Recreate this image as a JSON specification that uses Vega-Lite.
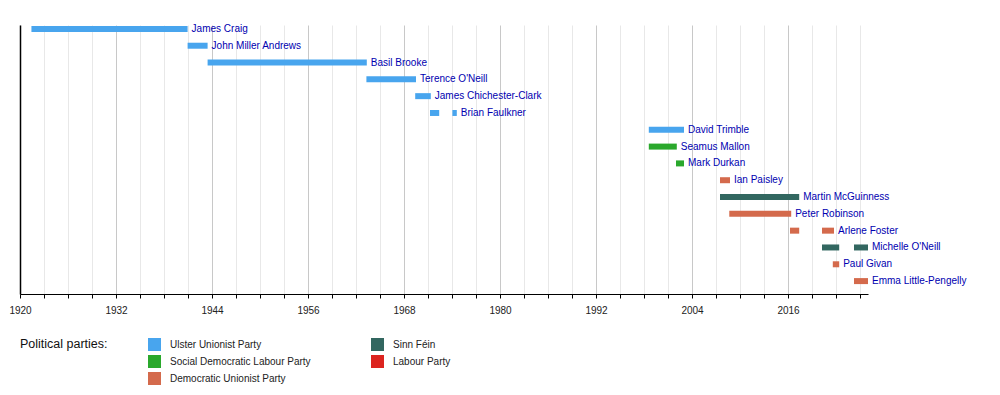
{
  "$schema": "https://vega.github.io/schema/vega-lite/v6.json",
  "width": 848,
  "height": 269,
  "autosize": {"type": "none"},
  "padding": {"left": 20, "top": 25, "right": 132, "bottom": 101},
  "background": "white",
  "config": {
    "view": {"stroke": null},
    "font": "Liberation Sans"
  },
  "data": {
    "values": [
      {"name": "James Craig", "party": "Ulster Unionist Party", "start": 1921.43, "end": 1940.95, "label": "James Craig"},
      {"name": "John Miller Andrews", "party": "Ulster Unionist Party", "start": 1940.95, "end": 1943.45, "label": "John Miller Andrews"},
      {"name": "Basil Brooke", "party": "Ulster Unionist Party", "start": 1943.45, "end": 1963.35, "label": "Basil Brooke"},
      {"name": "Terence O'Neill", "party": "Ulster Unionist Party", "start": 1963.3, "end": 1969.5, "label": "Terence O'Neill"},
      {"name": "James Chichester-Clark", "party": "Ulster Unionist Party", "start": 1969.4, "end": 1971.35, "label": "James Chichester-Clark"},
      {"name": "Brian Faulkner", "party": "Ulster Unionist Party", "start": 1971.25, "end": 1972.4, "label": ""},
      {"name": "Brian Faulkner", "party": "Ulster Unionist Party", "start": 1974.05, "end": 1974.6, "label": "Brian Faulkner"},
      {"name": "David Trimble", "party": "Ulster Unionist Party", "start": 1998.6, "end": 2003.0, "label": "David Trimble"},
      {"name": "Seamus Mallon", "party": "Social Democratic Labour Party", "start": 1998.6, "end": 2002.1, "label": "Seamus Mallon"},
      {"name": "Mark Durkan", "party": "Social Democratic Labour Party", "start": 2002.0, "end": 2003.0, "label": "Mark Durkan"},
      {"name": "Ian Paisley", "party": "Democratic Unionist Party", "start": 2007.5, "end": 2008.75, "label": "Ian Paisley"},
      {"name": "Martin McGuinness", "party": "Sinn Féin", "start": 2007.5, "end": 2017.4, "label": "Martin McGuinness"},
      {"name": "Peter Robinson", "party": "Democratic Unionist Party", "start": 2008.66, "end": 2016.4, "label": "Peter Robinson"},
      {"name": "Arlene Foster", "party": "Democratic Unionist Party", "start": 2016.25, "end": 2017.4, "label": ""},
      {"name": "Arlene Foster", "party": "Democratic Unionist Party", "start": 2020.25, "end": 2021.75, "label": "Arlene Foster"},
      {"name": "Michelle O'Neill", "party": "Sinn Féin", "start": 2020.25, "end": 2022.4, "label": ""},
      {"name": "Michelle O'Neill", "party": "Sinn Féin", "start": 2024.25, "end": 2026.0, "label": "Michelle O'Neill"},
      {"name": "Paul Givan", "party": "Democratic Unionist Party", "start": 2021.6, "end": 2022.4, "label": "Paul Givan"},
      {"name": "Emma Little-Pengelly", "party": "Democratic Unionist Party", "start": 2024.25, "end": 2026.0, "label": "Emma Little-Pengelly"}
    ]
  },
  "encoding": {
    "y": {
      "field": "name",
      "type": "nominal",
      "sort": ["James Craig", "John Miller Andrews", "Basil Brooke", "Terence O'Neill", "James Chichester-Clark", "Brian Faulkner", "David Trimble", "Seamus Mallon", "Mark Durkan", "Ian Paisley", "Martin McGuinness", "Peter Robinson", "Arlene Foster", "Michelle O'Neill", "Paul Givan", "Emma Little-Pengelly"],
      "scale": {"paddingInner": 0, "paddingOuter": 0},
      "axis": {"labels": false, "ticks": false, "title": null, "grid": false, "domainColor": "#000000", "domainWidth": 1.5}
    }
  },
  "layer": [
    {
      "mark": {"type": "bar", "height": 6, "yOffset": -4.5},
      "encoding": {
        "x": {
          "field": "start",
          "type": "quantitative",
          "scale": {"domain": [1920, 2026], "nice": false, "zero": false},
          "axis": {
            "title": null,
            "tickCount": 60,
            "values": [1920,1923,1926,1929,1932,1935,1938,1941,1944,1947,1950,1953,1956,1959,1962,1965,1968,1971,1974,1977,1980,1983,1986,1989,1992,1995,1998,2001,2004,2007,2010,2013,2016,2019,2022,2025],
            "format": "d",
            "labelExpr": "(datum.value - 1920) % 12 === 0 ? datum.label : ''",
            "labelFontSize": 10,
            "labelColor": "#222222",
            "labelPadding": 7,
            "tickSize": 4,
            "tickColor": "#000000",
            "domainColor": "#000000",
            "grid": true,
            "gridColor": {"condition": {"test": "(datum.value - 1920) % 12 === 0", "value": "#c8c8c8"}, "value": "#e8e8e8"},
            "labelFlush": false,
            "labelOverlap": false
          }
        },
        "x2": {"field": "end"},
        "color": {
          "field": "party",
          "type": "nominal",
          "scale": {
            "domain": ["Ulster Unionist Party", "Social Democratic Labour Party", "Democratic Unionist Party", "Sinn Féin", "Labour Party"],
            "range": ["#48A5EE", "#2AA82C", "#D46A4C", "#326760", "#DC241F"]
          },
          "legend": {
            "title": "Political parties:",
            "titleOrient": "left",
            "titleAnchor": "start",
            "titleFontSize": 12.5,
            "titleFontWeight": "normal",
            "titleColor": "#111111",
            "titleBaseline": "top",
            "titlePadding": 40,
            "orient": "none",
            "legendX": 0,
            "legendY": 313,
            "columns": 2,
            "columnPadding": 60,
            "rowPadding": 4,
            "padding": 0,
            "symbolType": "square",
            "symbolSize": 169,
            "symbolStrokeWidth": 0,
            "symbolOpacity": 1,
            "labelFontSize": 10,
            "labelColor": "#222222",
            "labelOffset": 9
          }
        }
      }
    },
    {
      "mark": {"type": "text", "align": "left", "baseline": "middle", "dx": 4, "yOffset": -4.5, "fontSize": 10, "color": "#0000B0"},
      "encoding": {
        "x": {"field": "end", "type": "quantitative"},
        "text": {"field": "label"}
      }
    }
  ]
}
